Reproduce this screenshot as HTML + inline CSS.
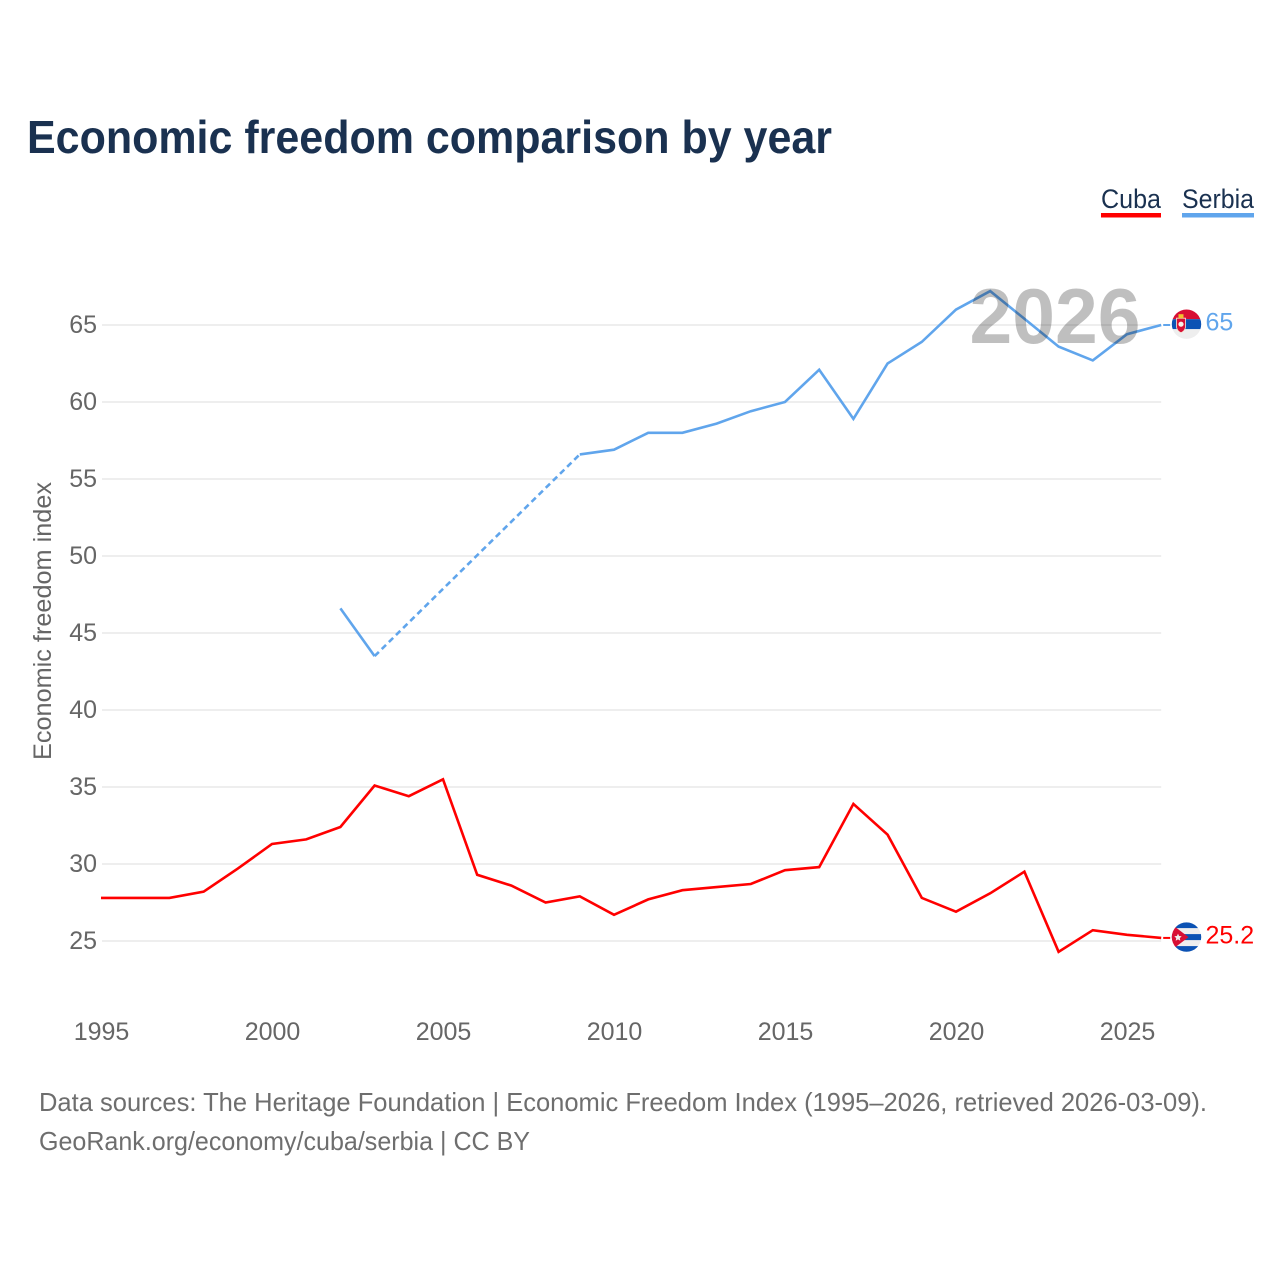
<!DOCTYPE html>
<html lang="en">
<head>
<meta charset="utf-8">
<title>Economic freedom comparison by year</title>
<style>
html,body{margin:0;padding:0;background:#fff;}
svg{display:block;font-family:"Liberation Sans",sans-serif;}
</style>
</head>
<body>
<svg id="chart" xmlns="http://www.w3.org/2000/svg" width="1280" height="1280" viewBox="0 0 1280 1280">
  <defs>
    <clipPath id="flag-clip"><circle cx="0" cy="0" r="14.7"/></clipPath>
  </defs>
  <rect x="0" y="0" width="1280" height="1280" fill="#ffffff"/>
  <text x="27" y="153" font-size="46" font-weight="700" fill="#1a3150" textLength="805" lengthAdjust="spacingAndGlyphs">Economic freedom comparison by year</text>

  <g>
    <g>
      <text x="1101" y="208" font-size="27" fill="#1a3150" textLength="60" lengthAdjust="spacingAndGlyphs">Cuba</text>
      <rect x="1101" y="213" width="60" height="4.500" fill="#ff0000"/>
    </g>
    <g>
      <text x="1182" y="208" font-size="27" fill="#1a3150" textLength="72" lengthAdjust="spacingAndGlyphs">Serbia</text>
      <rect x="1182" y="213" width="72" height="4.500" fill="#60a5ec"/>
    </g>
  </g>

  <g id="grid"></g>
  <g id="yticks"></g>
  <g id="xticks"></g>
  <text transform="translate(51,621) rotate(-90)" text-anchor="middle" font-size="25" fill="#666666" textLength="278" lengthAdjust="spacingAndGlyphs">Economic freedom index</text>

  <g id="series"></g>

  <text id="year-watermark" x="1055" y="343" text-anchor="middle" font-size="78" font-weight="700" fill="#000000" fill-opacity="0.25" textLength="171" lengthAdjust="spacingAndGlyphs">2026</text>

  <g id="flag-serbia">
    <g clip-path="url(#flag-clip)">
      <rect x="-15" y="-15" width="30" height="10" fill="#d80f34"/>
      <rect x="-15" y="-5" width="30" height="10" fill="#0b52b4"/>
      <rect x="-15" y="5" width="30" height="10" fill="#eeeeee"/>
      <path d="M-10,-6 h9 v9 q-.8,4 -4.500,5.500 q-3.700,-1.500 -4.500,-5.500 z" fill="#d80f34" stroke="#f4e9d8" stroke-width="0.8"/>
      <circle cx="-5.500" cy="0" r="2.600" fill="#f7f3ea"/>
      <rect x="-8" y="-10" width="5" height="4" fill="#f2c230"/>
    </g>
  </g>
  <g id="flag-cuba">
    <g clip-path="url(#flag-clip)">
      <rect x="-15" y="-15" width="30" height="30" fill="#eeeeee"/>
      <rect x="-15" y="-15" width="30" height="6" fill="#0b52b4"/>
      <rect x="-15" y="-3" width="30" height="6" fill="#0b52b4"/>
      <rect x="-15" y="9" width="30" height="6" fill="#0b52b4"/>
      <path d="M-15,-13 L2,0 L-15,13 z" fill="#d80f34"/>
      <path d="M-8.500,-3.500 l1.100,2.400 2.600,.3 -1.900,1.800 .5,2.600 -2.300,-1.300 -2.300,1.300 .5,-2.600 -1.900,-1.800 2.600,-.3 z" fill="#eeeeee"/>
    </g>
  </g>
  <text id="label-serbia" font-size="25" fill="#60a5ec"></text>
  <text id="label-cuba" font-size="25" fill="#ff0000"></text>

  <text x="39" y="1111" font-size="26" fill="#6e6e6e" textLength="1168" lengthAdjust="spacingAndGlyphs">Data sources: The Heritage Foundation | Economic Freedom Index (1995–2026, retrieved 2026-03-09).</text>
  <text x="39" y="1150" font-size="26" fill="#6e6e6e" textLength="491" lengthAdjust="spacingAndGlyphs">GeoRank.org/economy/cuba/serbia | CC BY</text>
</svg>
<script>
const years = [1995,1996,1997,1998,1999,2000,2001,2002,2003,2004,2005,2006,2007,2008,2009,2010,2011,2012,2013,2014,2015,2016,2017,2018,2019,2020,2021,2022,2023,2024,2025,2026];
const cubaValues = [27.8,27.8,27.8,28.2,29.7,31.3,31.6,32.4,35.1,34.4,35.5,29.3,28.6,27.5,27.9,26.7,27.7,28.3,28.5,28.7,29.6,29.8,33.9,31.9,27.8,26.9,28.1,29.5,24.3,25.7,25.4,25.2];
const serbiaValues = [null,null,null,null,null,null,null,46.6,43.5,null,null,null,null,null,56.6,56.9,58.0,58.0,58.6,59.4,60.0,62.1,58.9,62.5,63.9,66.0,67.2,65.4,63.6,62.7,64.4,65.0];
const yTickValues = [25,30,35,40,45,50,55,60,65];
const xTickValues = [1995,2000,2005,2010,2015,2020,2025];

const SVG_NS = 'http://www.w3.org/2000/svg';
const xScale = function (year) { return 101 + (year - 1995) * 34.2; };
const yScale = function (value) { return 941 - (value - 25) * 15.4; };
const plotRight = xScale(2026);

const gridGroup = document.getElementById('grid');
const yTickGroup = document.getElementById('yticks');
const xTickGroup = document.getElementById('xticks');
const seriesGroup = document.getElementById('series');

yTickValues.forEach(function (value) {
  const line = document.createElementNS(SVG_NS, 'line');
  
  
  line.setAttribute('x1', 102);
  line.setAttribute('x2', plotRight);
  line.setAttribute('y1', yScale(value));
  line.setAttribute('y2', yScale(value));
  line.setAttribute('stroke', '#e9e9e9');
  line.setAttribute('stroke-width', '1.5');
  gridGroup.appendChild(line);

  const label = document.createElementNS(SVG_NS, 'text');
  
  
  label.setAttribute('x', 97);
  label.setAttribute('y', yScale(value) + 8);
  label.setAttribute('text-anchor', 'end');
  label.setAttribute('font-size', '25');
  label.setAttribute('fill', '#666666');
  label.textContent = String(value);
  yTickGroup.appendChild(label);
});

xTickValues.forEach(function (year) {
  const label = document.createElementNS(SVG_NS, 'text');
  
  
  label.setAttribute('x', xScale(year) + 0.5);
  label.setAttribute('y', 1040);
  label.setAttribute('text-anchor', 'middle');
  label.setAttribute('font-size', '25');
  label.setAttribute('fill', '#666666');
  label.textContent = String(year);
  xTickGroup.appendChild(label);
});

function pointAt(values, index) {
  return xScale(years[index]).toFixed(1) + ',' + yScale(values[index]).toFixed(1);
}

function drawSeries(name, values, color) {
  let solid = '';
  let dashed = '';
  let previousIndex = -1;
  values.forEach(function (value, index) {
    if (value === null) { return; }
    const point = pointAt(values, index);
    if (previousIndex === -1) {
      solid += 'M' + point;
    } else if (index === previousIndex + 1) {
      solid += (solid.endsWith(pointAt(values, previousIndex)) ? 'L' : 'M' + pointAt(values, previousIndex) + 'L') + point;
    } else {
      dashed += 'M' + pointAt(values, previousIndex) + 'L' + point;
    }
    previousIndex = index;
  });

  const solidPath = document.createElementNS(SVG_NS, 'path');
  
  
  solidPath.setAttribute('d', solid);
  solidPath.setAttribute('fill', 'none');
  solidPath.setAttribute('stroke', color);
  solidPath.setAttribute('stroke-width', '2.6');
  seriesGroup.appendChild(solidPath);

  if (dashed) {
    const dashedPath = document.createElementNS(SVG_NS, 'path');
    
    
    dashedPath.setAttribute('d', dashed);
    dashedPath.setAttribute('fill', 'none');
    dashedPath.setAttribute('stroke', color);
    dashedPath.setAttribute('stroke-width', '2.6');
    dashedPath.setAttribute('stroke-dasharray', '6 4');
    seriesGroup.appendChild(dashedPath);
  }

  const lastValue = values[values.length - 1];
  const connector = document.createElementNS(SVG_NS, 'line');
  
  
  connector.setAttribute('x1', plotRight + 2);
  connector.setAttribute('x2', plotRight + 9);
  connector.setAttribute('y1', yScale(lastValue));
  connector.setAttribute('y2', yScale(lastValue));
  connector.setAttribute('stroke', color);
  connector.setAttribute('stroke-width', '2');
  seriesGroup.appendChild(connector);

  const flag = document.getElementById('flag-' + name);
  flag.setAttribute('transform', 'translate(1186.5,' + (yScale(lastValue) - 0.8).toFixed(1) + ')');

  const endLabel = document.getElementById('label-' + name);
  endLabel.setAttribute('x', 1205.5);
  endLabel.setAttribute('y', (yScale(lastValue) + 5.5).toFixed(1));
  endLabel.textContent = String(lastValue);
}

drawSeries('cuba', cubaValues, '#ff0000');
drawSeries('serbia', serbiaValues, '#60a5ec');
</script>
</body>
</html>
